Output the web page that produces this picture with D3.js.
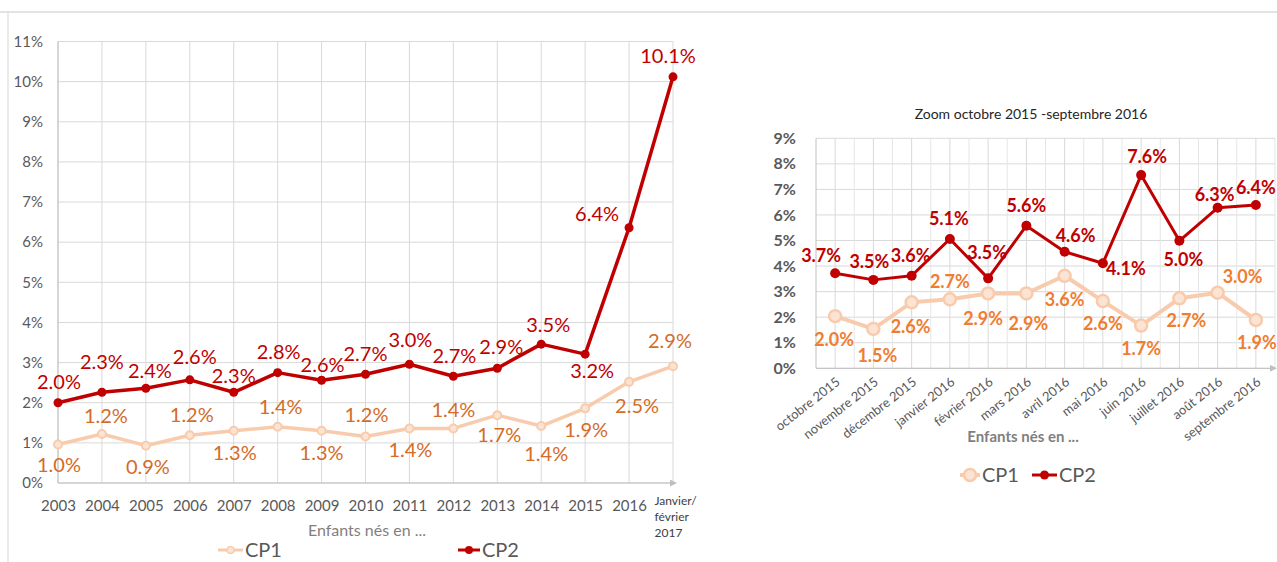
<!DOCTYPE html>
<html>
    <head>
        <meta charset="utf-8">
        <title>CP1 CP2</title>
        <script src="https://d3js.org/d3.v7.min.js"></script>
        <style>
            body { margin: 0; background: white; }
            text { font-family: Lato, "Open Sans", sans-serif; }
        </style>
    </head>
    <body>
    <script type="text/javascript">
    //data - left chart (yearly)
    var yearsLeft = ["2003","2004","2005","2006","2007","2008","2009","2010","2011","2012","2013","2014","2015","2016","Janvier/\nfévrier\n2017"];
    var cp1Left = [0.96, 1.22, 0.93, 1.19, 1.30, 1.40, 1.30, 1.16, 1.36, 1.36, 1.69, 1.42, 1.86, 2.52, 2.91];
    var cp2Left = [2.0, 2.26, 2.36, 2.57, 2.26, 2.75, 2.56, 2.71, 2.96, 2.66, 2.86, 3.46, 3.21, 6.36, 10.12];
    var yTicksLeft = [0,1,2,3,4,5,6,7,8,9,10,11];

    //data - right chart (monthly zoom)
    var monthsRight = ["octobre 2015","novembre 2015","décembre 2015","janvier 2016","février 2016","mars 2016","avril 2016","mai 2016","juin 2016","juillet 2016","août 2016","septembre 2016"];
    var cp1Right = [2.04, 1.54, 2.58, 2.70, 2.93, 2.93, 3.62, 2.63, 1.67, 2.74, 2.96, 1.89];
    var cp2Right = [3.72, 3.46, 3.62, 5.06, 3.52, 5.58, 4.56, 4.11, 7.56, 4.99, 6.28, 6.39];
    var yTicksRight = [0,1,2,3,4,5,6,7,8,9];

    //label offsets (px) from each point
    var offCp1Left = [[1,21],[4,-18],[2,21],[2,-20],[1,22],[3,-20],[0,22],[1,-21],[1,22],[0,-18],[2,20],[5,28],[1,22],[8,24],[-3,-25]];
    var offCp2Left = [[1,-21],[0,-30],[4,-17],[5,-23],[0,-16],[1,-21],[1,-15],[0,-20],[1,-24],[1,-20],[4,-21],[7,-19],[7,17],[-32,-14],[-5,-21]];
    var offCp1Right = [[-1,24],[4,27],[-1,24],[0,-18],[-5,25],[2,30],[0,24],[0,23],[0,23],[7,22],[25,-16],[1,23]];
    var offCp2Right = [[-14,-18],[-4,-18],[-1,-20],[-1,-20],[-1,-26],[0,-20],[11,-16],[23,5],[6,-18],[4,19],[-3,-13],[0,-17]];

    var colors = {cp1: "#f8cbad", cp1Fill: "#fce4d4", cp2: "#c00000", cp1LabelL: "#d46b27", cp1LabelR: "#ef7d31",
                  grid: "#d9d9d9", axis: "#bfbfbf", tick: "#595959", title: "#7f7f7f"};
    var fmt = function(v){ return v.toFixed(1) + "%"; };

    var svg = d3.select("body")
                .append("svg")
                .attr("width", 1277)
                .attr("height", 562);

    svg.append("rect").attr("width", 1277).attr("height", 562).attr("fill", "white");

    //frame lines
    svg.append("line").attr("x1", 0).attr("x2", 1277).attr("y1", 12).attr("y2", 12)
       .attr("stroke", "#e3e3e3").attr("stroke-width", 2);
    svg.append("line").attr("x1", 8).attr("x2", 8).attr("y1", 12).attr("y2", 562)
       .attr("stroke", "#e3e3e3").attr("stroke-width", 1.5);

    //arrow head for x axes
    svg.append("defs").append("marker")
       .attr("id", "arrow")
       .attr("viewBox", "0 0 10 10")
       .attr("refX", 0).attr("refY", 5)
       .attr("markerWidth", 7).attr("markerHeight", 7)
       .attr("markerUnits", "userSpaceOnUse")
       .attr("orient", "auto")
       .append("path")
       .attr("d", "M0,0 L10,5 L0,10 z")
       .attr("fill", colors.axis);

    //LEFT chart
    //-------------------------------------------------------
    var xL = d3.scalePoint().domain(yearsLeft).range([58, 673]);
    var yL = d3.scaleLinear().domain([0, 11]).range([483, 41.5]);
    var gL = svg.append("g");

    //grid
    gL.append("g").selectAll("line").data(yTicksLeft).enter().append("line")
      .attr("x1", 58).attr("x2", 673)
      .attr("y1", function(d){ return yL(d); }).attr("y2", function(d){ return yL(d); })
      .attr("stroke", colors.grid);
    gL.append("g").selectAll("line").data(yearsLeft).enter().append("line")
      .attr("x1", function(d){ return xL(d); }).attr("x2", function(d){ return xL(d); })
      .attr("y1", yL(11)).attr("y2", yL(0))
      .attr("stroke", colors.grid);

    //axes
    gL.append("line").attr("x1", 58).attr("x2", 58).attr("y1", yL(11)).attr("y2", yL(0)).attr("stroke", colors.axis);
    gL.append("line").attr("x1", 58).attr("x2", 670).attr("y1", yL(0)).attr("y2", yL(0))
      .attr("stroke", colors.axis).attr("marker-end", "url(#arrow)");

    var axL = gL.append("g")
      .attr("transform", "translate(58,0)")
      .call(d3.axisLeft(yL).tickValues(yTicksLeft).tickSize(0).tickPadding(15).tickFormat(function(d){ return d + "%"; }));
    axL.select(".domain").remove();
    axL.selectAll("text").attr("font-size", 15).attr("fill", colors.tick).attr("font-family", "Lato");

    var axB = gL.append("g")
      .attr("transform", "translate(0," + yL(0) + ")")
      .call(d3.axisBottom(xL).tickSize(0).tickPadding(17));
    axB.select(".domain").remove();
    axB.selectAll("text").attr("font-size", 15).attr("fill", colors.tick).attr("font-family", "Lato");

    //multi-line last category
    axB.selectAll("text").filter(function(d){ return d.indexOf("\n") >= 0; })
       .each(function(d){
           var t = d3.select(this).text(null)
               .attr("text-anchor", "start").attr("font-size", 12).attr("fill", "#404040")
               .attr("y", 13);
           d.split("\n").forEach(function(s, i){
               t.append("tspan").attr("x", -19).attr("dy", i == 0 ? "0.71em" : 16).text(s);
           });
       });

    gL.append("text").attr("x", 367).attr("y", 530).attr("dy", "0.35em")
      .attr("text-anchor", "middle").attr("font-size", 16).attr("fill", colors.title)
      .text("Enfants nés en ...");

    drawSeries(gL, xL, yL, yearsLeft, cp1Left, {stroke: colors.cp1, width: 3.5, r: 4, fill: colors.cp1Fill, sw: 2},
               offCp1Left, colors.cp1LabelL, 20, "normal");
    drawSeries(gL, xL, yL, yearsLeft, cp2Left, {stroke: colors.cp2, width: 3.5, r: 4.5, fill: colors.cp2, sw: 0},
               offCp2Left, colors.cp2, 20, "normal");

    //left legend
    legendItem(gL, 218, 550, 25, "CP1", {stroke: colors.cp1, width: 3, r: 3.5, fill: colors.cp1Fill, sw: 1.5}, 20);
    legendItem(gL, 458, 550, 22, "CP2", {stroke: colors.cp2, width: 3, r: 4, fill: colors.cp2, sw: 0}, 20);

    //RIGHT chart
    //-------------------------------------------------------
    var xR = d3.scaleBand().domain(monthsRight).range([816, 1275]);
    var yR = d3.scaleLinear().domain([0, 9]).range([368.3, 138.3]);
    var cx = function(d){ return xR(d) + xR.bandwidth() / 2; };
    var gR = svg.append("g");

    gR.append("text").attr("x", 1031).attr("y", 114).attr("dy", "0.35em")
      .attr("text-anchor", "middle").attr("font-size", 14).attr("fill", "#262626")
      .text("Zoom octobre 2015 -septembre 2016");

    //grid: horizontal majors, vertical at band edges and centres
    gR.append("g").selectAll("line").data(yTicksRight).enter().append("line")
      .attr("x1", 816).attr("x2", 1275)
      .attr("y1", function(d){ return yR(d); }).attr("y2", function(d){ return yR(d); })
      .attr("stroke", colors.grid);
    var vx = [];
    monthsRight.forEach(function(m){ vx.push(xR(m) + xR.bandwidth()); vx.push(cx(m)); });
    gR.append("g").selectAll("line").data(vx).enter().append("line")
      .attr("x1", function(d){ return d; }).attr("x2", function(d){ return d; })
      .attr("y1", yR(9)).attr("y2", yR(0))
      .attr("stroke", function(d, i){ return i % 2 ? colors.grid : "#e6e6e6"; });

    gR.append("line").attr("x1", 816).attr("x2", 816).attr("y1", yR(9)).attr("y2", yR(0)).attr("stroke", colors.axis);
    gR.append("line").attr("x1", 816).attr("x2", 1270).attr("y1", yR(0)).attr("y2", yR(0))
      .attr("stroke", colors.axis).attr("marker-end", "url(#arrow)");

    var axRL = gR.append("g")
      .attr("transform", "translate(816,0)")
      .call(d3.axisLeft(yR).tickValues(yTicksRight).tickSize(0).tickPadding(20).tickFormat(function(d){ return d + "%"; }));
    axRL.select(".domain").remove();
    axRL.selectAll("text").attr("font-size", 16).attr("font-weight", "bold").attr("fill", colors.tick).attr("font-family", "Lato");

    //rotated month labels
    gR.append("g").selectAll("text").data(monthsRight).enter().append("text")
      .attr("transform", function(d){ return "translate(" + (cx(d) + 3) + "," + 380 + ") rotate(-38)"; })
      .attr("text-anchor", "end").attr("dy", "0.35em")
      .attr("font-size", 13).attr("fill", colors.tick)
      .text(function(d){ return d; });

    gR.append("text").attr("x", 1023).attr("y", 437).attr("dy", "0.35em")
      .attr("text-anchor", "middle").attr("font-size", 15).attr("font-weight", "bold").attr("fill", colors.title)
      .text("Enfants nés en ...");

    var cxScale = function(d){ return cx(d); };
    drawSeries(gR, cxScale, yR, monthsRight, cp1Right, {stroke: colors.cp1, width: 4, r: 6, fill: colors.cp1Fill, sw: 2.5},
               offCp1Right, colors.cp1LabelR, 18, "bold");
    drawSeries(gR, cxScale, yR, monthsRight, cp2Right, {stroke: colors.cp2, width: 3, r: 5, fill: colors.cp2, sw: 0},
               offCp2Right, colors.cp2, 18, "bold");

    legendItem(gR, 960, 475, 20, "CP1", {stroke: colors.cp1, width: 4, r: 6, fill: colors.cp1Fill, sw: 2.5}, 20);
    legendItem(gR, 1032, 475, 25, "CP2", {stroke: colors.cp2, width: 3, r: 4.5, fill: colors.cp2, sw: 0}, 20);

    //auxiliary functions
    //-------------------------------------------------------

    //draws one line series with markers and value labels
    function drawSeries(g, x, y, cats, vals, st, offs, labelColor, fontSize, weight){
        var line = d3.line()
            .x(function(d, i){ return x(cats[i]); })
            .y(function(d){ return y(d); });

        g.append("path")
         .datum(vals)
         .attr("d", line)
         .attr("fill", "none")
         .attr("stroke", st.stroke)
         .attr("stroke-width", st.width)
         .attr("stroke-linejoin", "round");

        g.append("g").selectAll("circle").data(vals).enter().append("circle")
         .attr("cx", function(d, i){ return x(cats[i]); })
         .attr("cy", function(d){ return y(d); })
         .attr("r", st.r)
         .attr("fill", st.fill)
         .attr("stroke", st.stroke)
         .attr("stroke-width", st.sw);

        g.append("g").selectAll("text").data(vals).enter().append("text")
         .attr("x", function(d, i){ return x(cats[i]) + offs[i][0]; })
         .attr("y", function(d, i){ return y(d) + offs[i][1]; })
         .attr("dy", "0.35em")
         .attr("text-anchor", "middle")
         .attr("font-size", fontSize)
         .attr("font-weight", weight)
         .attr("fill", labelColor)
         .text(fmt);
    }

    //draws a legend entry: short line, marker and name
    function legendItem(g, x, y, len, name, st, fontSize){
        g.append("line").attr("x1", x).attr("x2", x + len).attr("y1", y).attr("y2", y)
         .attr("stroke", st.stroke).attr("stroke-width", st.width);
        g.append("circle").attr("cx", x + len / 2).attr("cy", y).attr("r", st.r)
         .attr("fill", st.fill).attr("stroke", st.stroke).attr("stroke-width", st.sw);
        g.append("text").attr("x", x + len + 2).attr("y", y).attr("dy", "0.35em")
         .attr("font-size", fontSize).attr("fill", colors.tick)
         .text(name);
    }
    </script>
    </body>
</html>
